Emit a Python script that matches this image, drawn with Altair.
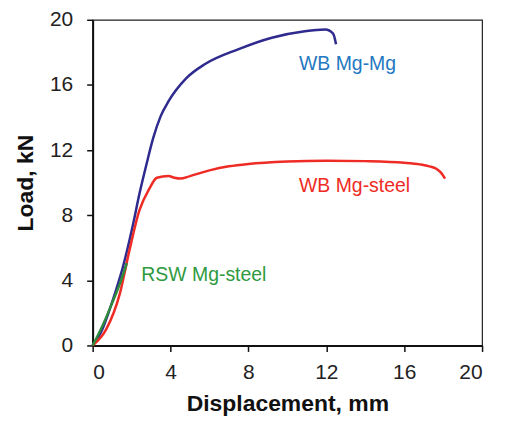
import altair as alt
import pandas as pd

# WB Mg-Mg
mgmg_x = [0, 0.5, 0.87, 1.2, 1.55, 2.05, 2.4, 2.8, 3.1, 3.5, 3.9, 4.8, 5.8, 7.5, 9.2, 10.9, 11.95, 12.35, 12.5]
mgmg_y = [0, 1.0, 2.2, 3.4, 4.8, 7.3, 9.3, 11.3, 12.7, 14.1, 15.0, 16.4, 17.3, 18.2, 18.9, 19.3, 19.4, 19.15, 18.5]
# WB Mg-steel
mgst_x = [0, 0.7, 1.4, 1.9, 2.4, 2.9, 3.3, 3.9, 4.2, 4.5, 5, 6, 7, 8, 10, 12, 14, 16, 16.8, 17.3, 17.65, 17.9, 18.1]
mgst_y = [0, 1.0, 3.2, 5.9, 8.3, 9.6, 10.3, 10.4, 10.3, 10.25, 10.4, 10.75, 11.0, 11.15, 11.3, 11.35, 11.32, 11.22, 11.12, 11.0, 10.85, 10.6, 10.25]
# RSW Mg-steel
rsw_x = [0, 0.5, 1.0, 1.4, 1.75]
rsw_y = [0, 1.2, 2.6, 3.8, 5.05]

series_names = ["WB Mg-Mg", "WB Mg-steel", "RSW Mg-steel"]
series_colors = ["#2e2a8e", "#ee2b24", "#2e8b3c"]
label_colors = ["#1f78c1", "#ee2b24", "#2e9a40"]
label_x = [10.6, 10.6, 2.5]
label_y = [17.3, 9.8, 4.33]

x_ticks = [0, 4, 8, 12, 16, 20]
y_ticks = [0, 4, 8, 12, 16, 20]

rows = []
for name, xs, ys in zip(series_names, [mgmg_x, mgst_x, rsw_x], [mgmg_y, mgst_y, rsw_y]):
    for i, (a, b) in enumerate(zip(xs, ys)):
        rows.append({"series": name, "x": a, "y": b, "order": i})
df = pd.DataFrame(rows)
lab = pd.DataFrame({"series": series_names, "x": label_x, "y": label_y, "c": label_colors})

font = "Liberation Sans"
xs = alt.Scale(domain=[0, 20], nice=False)
ys = alt.Scale(domain=[0, 20], nice=False)

lines = alt.Chart(df).mark_line(strokeWidth=2.5, interpolate="monotone").encode(
    x=alt.X("x:Q", scale=xs, axis=alt.Axis(values=x_ticks, title="Displacement, mm")),
    y=alt.Y("y:Q", scale=ys, axis=alt.Axis(values=y_ticks, title="Load, kN")),
    color=alt.Color("series:N", scale=alt.Scale(domain=series_names, range=series_colors), legend=None),
    detail="series:N",
    order="order:Q",
)

texts = alt.Chart(lab).mark_text(align="left", baseline="middle", fontSize=19.5, font=font).encode(
    x="x:Q", y="y:Q", text="series:N", color=alt.Color("c:N", scale=None)
)

chart = alt.layer(lines, texts).properties(
    width=391, height=327,
    autosize=alt.AutoSizeParams(type="none"),
    padding={"left": 85, "top": 11, "right": 15, "bottom": 70},
).configure_view(stroke="#222", strokeWidth=1.2).configure_axis(
    grid=False, domainColor="#111", domainWidth=2, tickColor="#111", tickWidth=1.5, tickSize=6,
    labelFont=font, labelFontSize=21, labelColor="#222", labelPadding=10,
    titleFont=font, titleFontSize=23, titleFontWeight="bold", titleColor="#111",
).configure_axisX(titlePadding=10).configure_axisY(titlePadding=12, labelPadding=14)

chart.save("out.html", embed_options={"renderer": "svg", "actions": False})
